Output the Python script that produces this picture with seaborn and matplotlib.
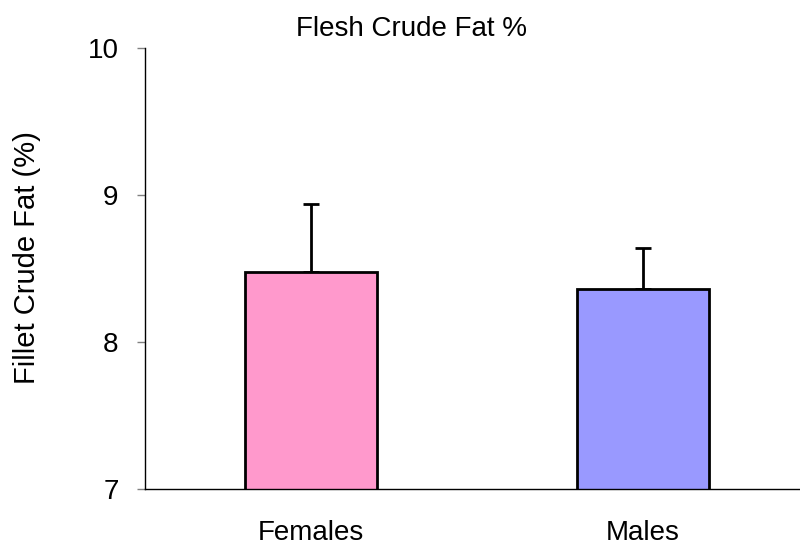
import matplotlib
matplotlib.use("Agg")
import matplotlib.pyplot as plt
import seaborn as sns
import pandas as pd

# Werte
groups = ["Females", "Males"]
fat_mean = [8.48, 8.36]
fat_err = [0.46, 0.28]
bar_colors = ["#FF99CC", "#9999FF"]

sns.set_style("white")
plt.rcParams["font.family"] = ["Liberation Sans", "DejaVu Sans"]
plt.rcParams["text.color"] = "black"
plt.rcParams["axes.labelcolor"] = "black"

df = pd.DataFrame({"group": groups, "fat": fat_mean})

fig = plt.figure(figsize=(8, 5.47), dpi=100)
ax = fig.add_axes([0.18125, 0.106, 0.83, 0.806])

sns.barplot(data=df, x="group", y="fat", hue="group", palette=bar_colors,
            saturation=1, width=0.4, edgecolor="black", linewidth=2,
            legend=False, errorbar=None, ax=ax, zorder=2)

# nur obere Fehlerbalken
ax.errorbar(x=range(len(groups)), y=fat_mean, yerr=[[0] * len(groups), fat_err],
            fmt="none", ecolor="black", elinewidth=2, capsize=6, capthick=2, zorder=1)

ax.set_xlim(-0.5, 1.5)
ax.set_ylim(7, 10)
ax.set_yticks([7, 8, 9, 10])
ax.set_xticks([0, 1])
ax.set_xticks([-0.5, 0.5, 1.5], minor=True)
ax.tick_params(axis="x", which="major", length=0, labelsize=20, pad=22,
               labelcolor="black")
ax.tick_params(axis="x", which="minor", length=6, color="#808080", width=1,
               direction="out")
ax.tick_params(axis="y", length=6, color="#808080", width=1, direction="out",
               labelsize=20, pad=13, left=True, labelcolor="black")

for side in ["top", "right"]:
    ax.spines[side].set_visible(False)
for side in ["left", "bottom"]:
    ax.spines[side].set_color("black")
    ax.spines[side].set_linewidth(1)

ax.set_xlabel("")
ax.set_ylabel("Fillet Crude Fat (%)", fontsize=21)
ax.yaxis.set_label_coords(-0.178, 0.526)
ax.yaxis.label.set_verticalalignment("center")

fig.text(412 / 800, 0.934, "Flesh Crude Fat %", ha="center", va="baseline",
         fontsize=20)

fig.savefig("out.png", dpi=100)
